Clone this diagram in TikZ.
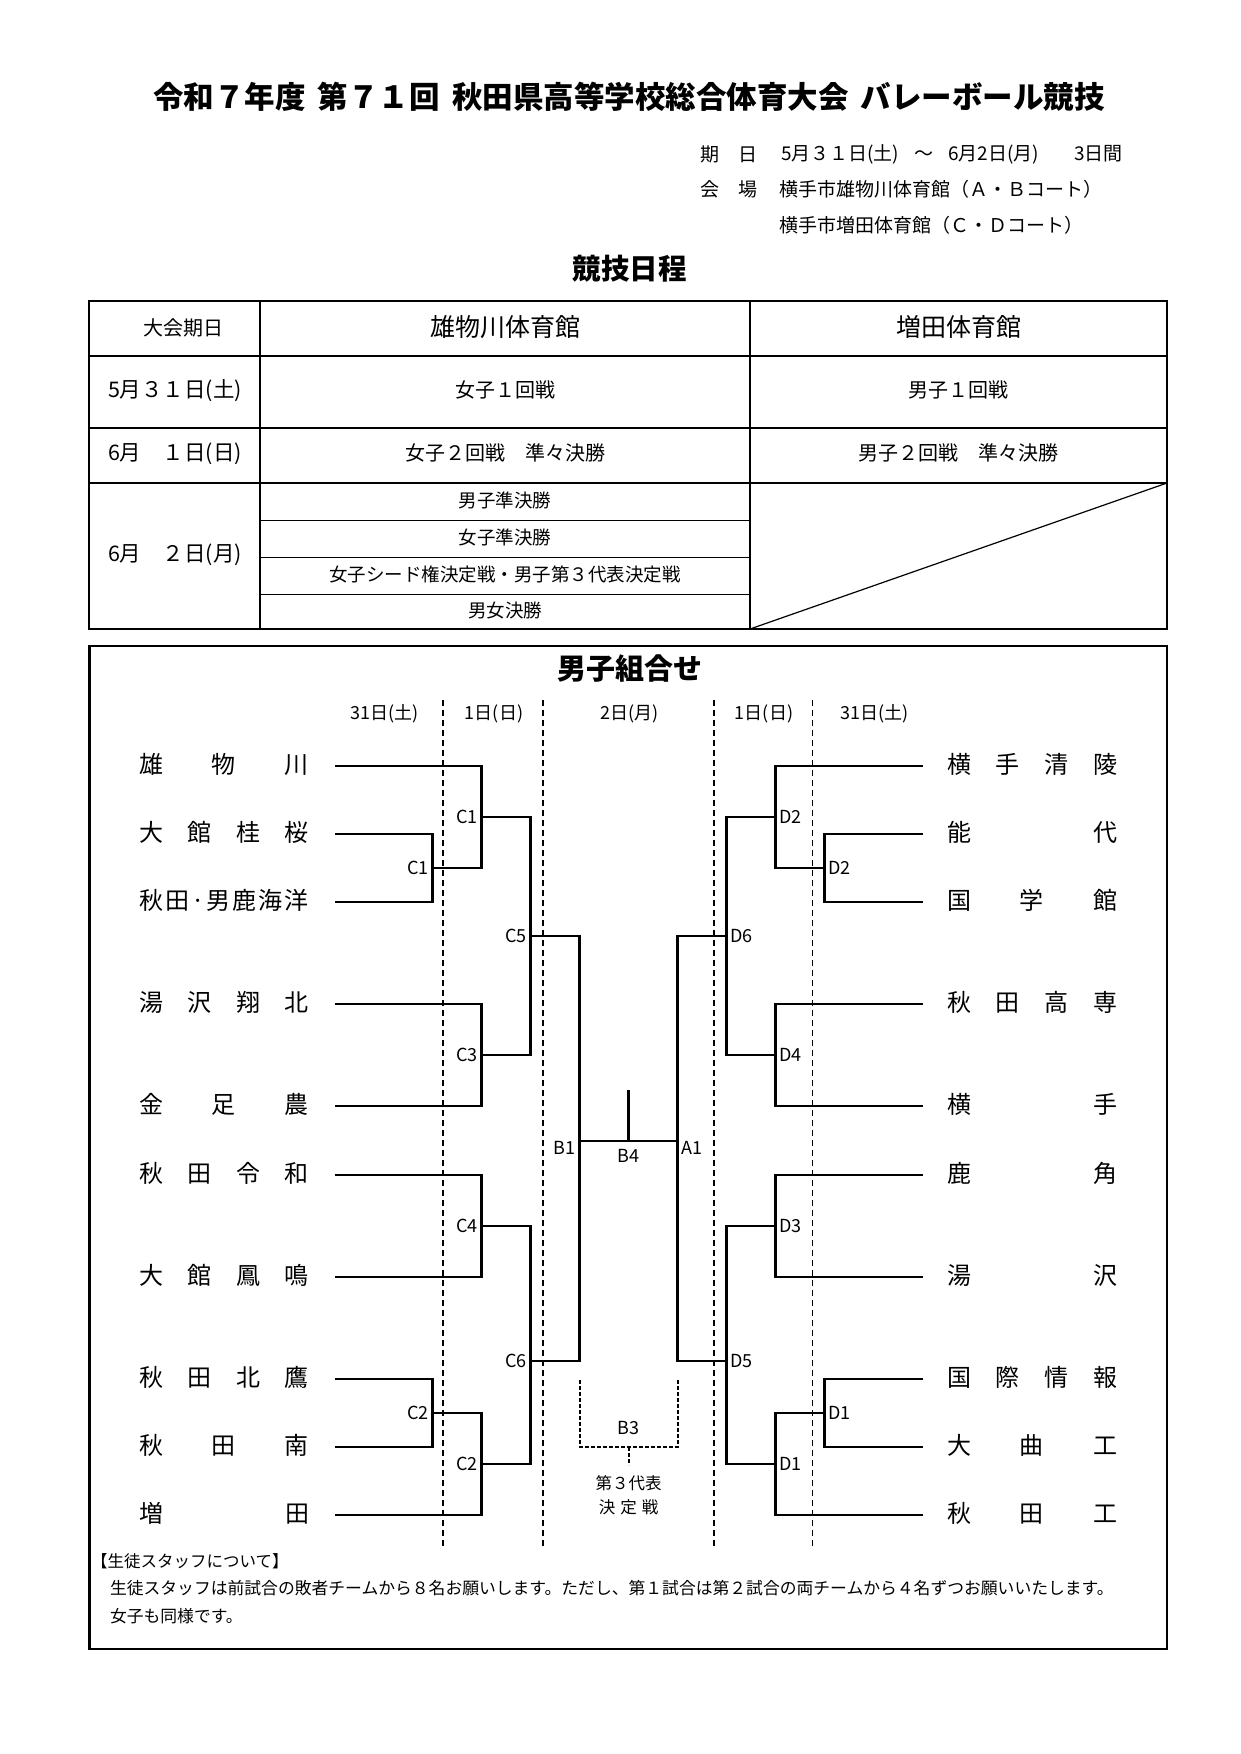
\documentclass[tikz,border=0pt]{standalone}
\usepackage{fontspec}
\setmainfont{Noto Sans CJK JP}
\newcommand{\jpfs}[1]{\fontsize{#1pt}{#1pt}\selectfont}
\begin{document}
\begin{tikzpicture}[x=1pt,y=-1pt,
  txt/.style={inner sep=0pt, outer sep=0pt},
  br/.style={line width=2.5pt, line join=miter},
  b3/.style={line width=2pt, dash pattern=on 4pt off 2pt},
  daysep/.style={line width=1.1pt, dash pattern=on 6pt off 4pt},
  lab/.style={txt, font=\jpfs{18}},
  team/.style={txt, anchor=west, font=\jpfs{24}},
  cell/.style={txt, font=\jpfs{20}},
  subcell/.style={txt, font=\jpfs{18.5}},
  info/.style={txt, anchor=west, font=\jpfs{19}}
]
\fill[white] (0,0) rectangle (1240,1754);
\useasboundingbox (0,0) rectangle (1240,1754);

% ---------- title & info ----------
\node[txt, font=\jpfs{30.5}\bfseries] (title) at (629,97) {令和７年度\hspace{0.4em}第７１回\hspace{0.4em}秋田県高等学校総合体育大会\hspace{0.4em}バレーボール競技};
\node[info] (i1a) at (700,154) {期　日};
\node[info] (i1b) at (781,154) {5月３１日(土)\hspace{15pt}～\hspace{15pt}6月2日(月)\hspace{35pt}3日間};
\node[info] (i2a) at (700,189) {会　場};
\node[info] (i2b) at (779,189) {横手市雄物川体育館（Ａ・Ｂコート）};
\node[info] (i3b) at (779,225) {横手市増田体育館（Ｃ・Ｄコート）};

\node[txt, font=\jpfs{28.5}\bfseries] (sched) at (629.5,269) {競技日程};

% ---------- schedule table ----------
\draw[line width=2.5pt] (89,301) rectangle (1167,629);
\foreach \yy in {356,428,483} \draw[line width=2.2pt] (89,\yy) -- (1167,\yy);
\foreach \xx in {260,750} \draw[line width=1.6pt] (\xx,301) -- (\xx,629);
\foreach \yy in {520,557,594} \draw[line width=1pt] (260,\yy) -- (750,\yy);
\draw[line width=1.2pt] (750,629) -- (1167,483);

\node[cell] (h1) at (183,328) {大会期日};
\node[txt, font=\jpfs{25}] (h2) at (505,327) {雄物川体育館};
\node[txt, font=\jpfs{25}] (h3) at (958.5,327) {増田体育館};

\node[txt, font=\jpfs{21.5}, anchor=west] (d1) at (108,391) {5月３１日(土)};
\node[cell] (r1a) at (505,390) {女子１回戦};
\node[cell] (r1b) at (958.5,390) {男子１回戦};

\node[txt, font=\jpfs{21.5}, anchor=west] (d2) at (108,454) {6月　１日(日)};
\node[cell] (r2a) at (505,453) {女子２回戦　準々決勝};
\node[cell] (r2b) at (958.5,453) {男子２回戦　準々決勝};

\node[txt, font=\jpfs{21.5}, anchor=west] (d3) at (108,555) {6月　２日(月)};
\node[subcell] (s1) at (505,500) {男子準決勝};
\node[subcell] (s2) at (505,537) {女子準決勝};
\node[subcell] (s3) at (505,574) {女子シード権決定戦・男子第３代表決定戦};
\node[subcell] (s4) at (505,610) {男女決勝};

% ---------- bracket box ----------
\draw[line width=2.5pt] (89.5,646) rectangle (1167,1649);
\node[txt, font=\jpfs{29}\bfseries] (btitle) at (629.5,669) {男子組合せ};

\node[lab] (day1) at (384.5,714) {31日(土)};
\node[lab] (day2) at (494,714) {1日(日)};
\node[lab] (day3) at (629.5,714) {2日(月)};
\node[lab] (day4) at (764,714) {1日(日)};
\node[lab] (day5) at (874.5,714) {31日(土)};

\foreach \xx in {443,543,714,812.5} \draw[daysep] (\xx,700) -- (\xx,1546);

% teams left
\foreach \i/\y/\nm in {
  1/766/{雄\hfill 物\hfill 川},
  2/834/{大\hfill 館\hfill 桂\hfill 桜},
  3/902/{秋\hfill 田\hfill ·\hfill 男\hfill 鹿\hfill 海\hfill 洋},
  4/1004/{湯\hfill 沢\hfill 翔\hfill 北},
  5/1106/{金\hfill 足\hfill 農},
  6/1175/{秋\hfill 田\hfill 令\hfill 和},
  7/1277/{大\hfill 館\hfill 鳳\hfill 鳴},
  8/1379/{秋\hfill 田\hfill 北\hfill 鷹},
  9/1447/{秋\hfill 田\hfill 南},
  10/1515/{増\hfill 田}} {
  \node[team] (tL\i) at (139,\y-2) {\hbox to 170pt{\nm}};
  \coordinate (eL\i) at (334.5,\y);
}
% teams right
\foreach \i/\y/\nm in {
  1/766/{横\hfill 手\hfill 清\hfill 陵},
  2/834/{能\hfill 代},
  3/902/{国\hfill 学\hfill 館},
  4/1004/{秋\hfill 田\hfill 高\hfill 専},
  5/1106/{横\hfill 手},
  6/1175/{鹿\hfill 角},
  7/1277/{湯\hfill 沢},
  8/1379/{国\hfill 際\hfill 情\hfill 報},
  9/1447/{大\hfill 曲\hfill 工},
  10/1515/{秋\hfill 田\hfill 工}} {
  \node[team] (tR\i) at (947,\y-2) {\hbox to 170pt{\nm}};
  \coordinate (eR\i) at (922.5,\y);
}

% match junctions
\coordinate (C1a) at (432.5,868);
\coordinate (C1b) at (481.5,817);
\coordinate (C3) at (481.5,1055);
\coordinate (C5) at (530.5,936);
\coordinate (C4) at (481.5,1226);
\coordinate (C2a) at (432.5,1413);
\coordinate (C2b) at (481.5,1464);
\coordinate (C6) at (530.5,1361);
\coordinate (B1) at (579.5,1141);
\coordinate (B4) at (628.5,1141);
\coordinate (B4top) at (628.5,1090);
\coordinate (A1) at (677.5,1141);
\coordinate (D2a) at (824.5,868);
\coordinate (D2b) at (775.5,817);
\coordinate (D4) at (775.5,1055);
\coordinate (D6) at (726.5,936);
\coordinate (D3) at (775.5,1226);
\coordinate (D1a) at (824.5,1413);
\coordinate (D1b) at (775.5,1464);
\coordinate (D5) at (726.5,1361);

% left bracket
\draw[br] (eL2) -| (C1a) |- (eL3);
\draw[br] (eL1) -| (C1b) |- (C1a);
\draw[br] (eL4) -| (C3) |- (eL5);
\draw[br] (C1b) -| (C5) |- (C3);
\draw[br] (eL6) -| (C4) |- (eL7);
\draw[br] (eL8) -| (C2a) |- (eL9);
\draw[br] (C2a) -| (C2b) |- (eL10);
\draw[br] (C4) -| (C6) |- (C2b);
\draw[br] (C5) -| (B1) |- (C6);
% right bracket
\draw[br] (eR2) -| (D2a) |- (eR3);
\draw[br] (eR1) -| (D2b) |- (D2a);
\draw[br] (eR4) -| (D4) |- (eR5);
\draw[br] (D2b) -| (D6) |- (D4);
\draw[br] (eR6) -| (D3) |- (eR7);
\draw[br] (eR8) -| (D1a) |- (eR9);
\draw[br] (D1a) -| (D1b) |- (eR10);
\draw[br] (D3) -| (D5) |- (D1b);
\draw[br] (D6) -| (A1) |- (D5);
% final
\draw[br] (B1) -- (A1);
\draw[br] (B4) -- (B4top);

% third place
\coordinate (B3l) at (579.5,1380);
\coordinate (B3r) at (677.5,1380);
\coordinate (B3m) at (628.5,1447);
\coordinate (B3s) at (628.5,1465);
\draw[b3] (B3l) |- (B3m) -| (B3r);
\draw[b3] (B3m) -- (B3s);
\node[lab] (lB3) at (628.5,1428) {B3};
\node[txt, font=\jpfs{16.5}] (third1) at (628.5,1483) {第３代表};
\node[txt, font=\jpfs{16.5}] (third2) at (628.5,1507) {決\hspace{5pt}定\hspace{5pt}戦};

% labels
\node[lab, anchor=east] (lC1a) at (428.5,868) {C1};
\node[lab, anchor=east] (lC1b) at (477.5,817) {C1};
\node[lab, anchor=east] (lC3) at (477.5,1055) {C3};
\node[lab, anchor=east] (lC5) at (526.5,936) {C5};
\node[lab, anchor=east] (lC4) at (477.5,1226) {C4};
\node[lab, anchor=east] (lC2a) at (428.5,1413) {C2};
\node[lab, anchor=east] (lC2b) at (477.5,1464) {C2};
\node[lab, anchor=east] (lC6) at (526.5,1361) {C6};
\node[lab, anchor=east] (lB1) at (575.5,1148) {B1};
\node[lab] (lB4) at (628.5,1156) {B4};
\node[lab, anchor=west] (lA1) at (681.5,1148) {A1};
\node[lab, anchor=west] (lD2a) at (828.5,868) {D2};
\node[lab, anchor=west] (lD2b) at (779.5,817) {D2};
\node[lab, anchor=west] (lD4) at (779.5,1055) {D4};
\node[lab, anchor=west] (lD6) at (730.5,936) {D6};
\node[lab, anchor=west] (lD3) at (779.5,1226) {D3};
\node[lab, anchor=west] (lD1a) at (828.5,1413) {D1};
\node[lab, anchor=west] (lD1b) at (779.5,1464) {D1};
\node[lab, anchor=west] (lD5) at (730.5,1361) {D5};

% footnote
\node[txt, anchor=west, font=\jpfs{16.5}] (f1) at (91,1561) {【生徒スタッフについて】};
\node[txt, anchor=west, font=\jpfs{16.8}] (f2) at (110,1588) {生徒スタッフは前試合の敗者チームから８名お願いします。ただし、第１試合は第２試合の両チームから４名ずつお願いいたします。};
\node[txt, anchor=west, font=\jpfs{16.8}] (f3) at (110,1616) {女子も同様です。};
\end{tikzpicture}
\end{document}
